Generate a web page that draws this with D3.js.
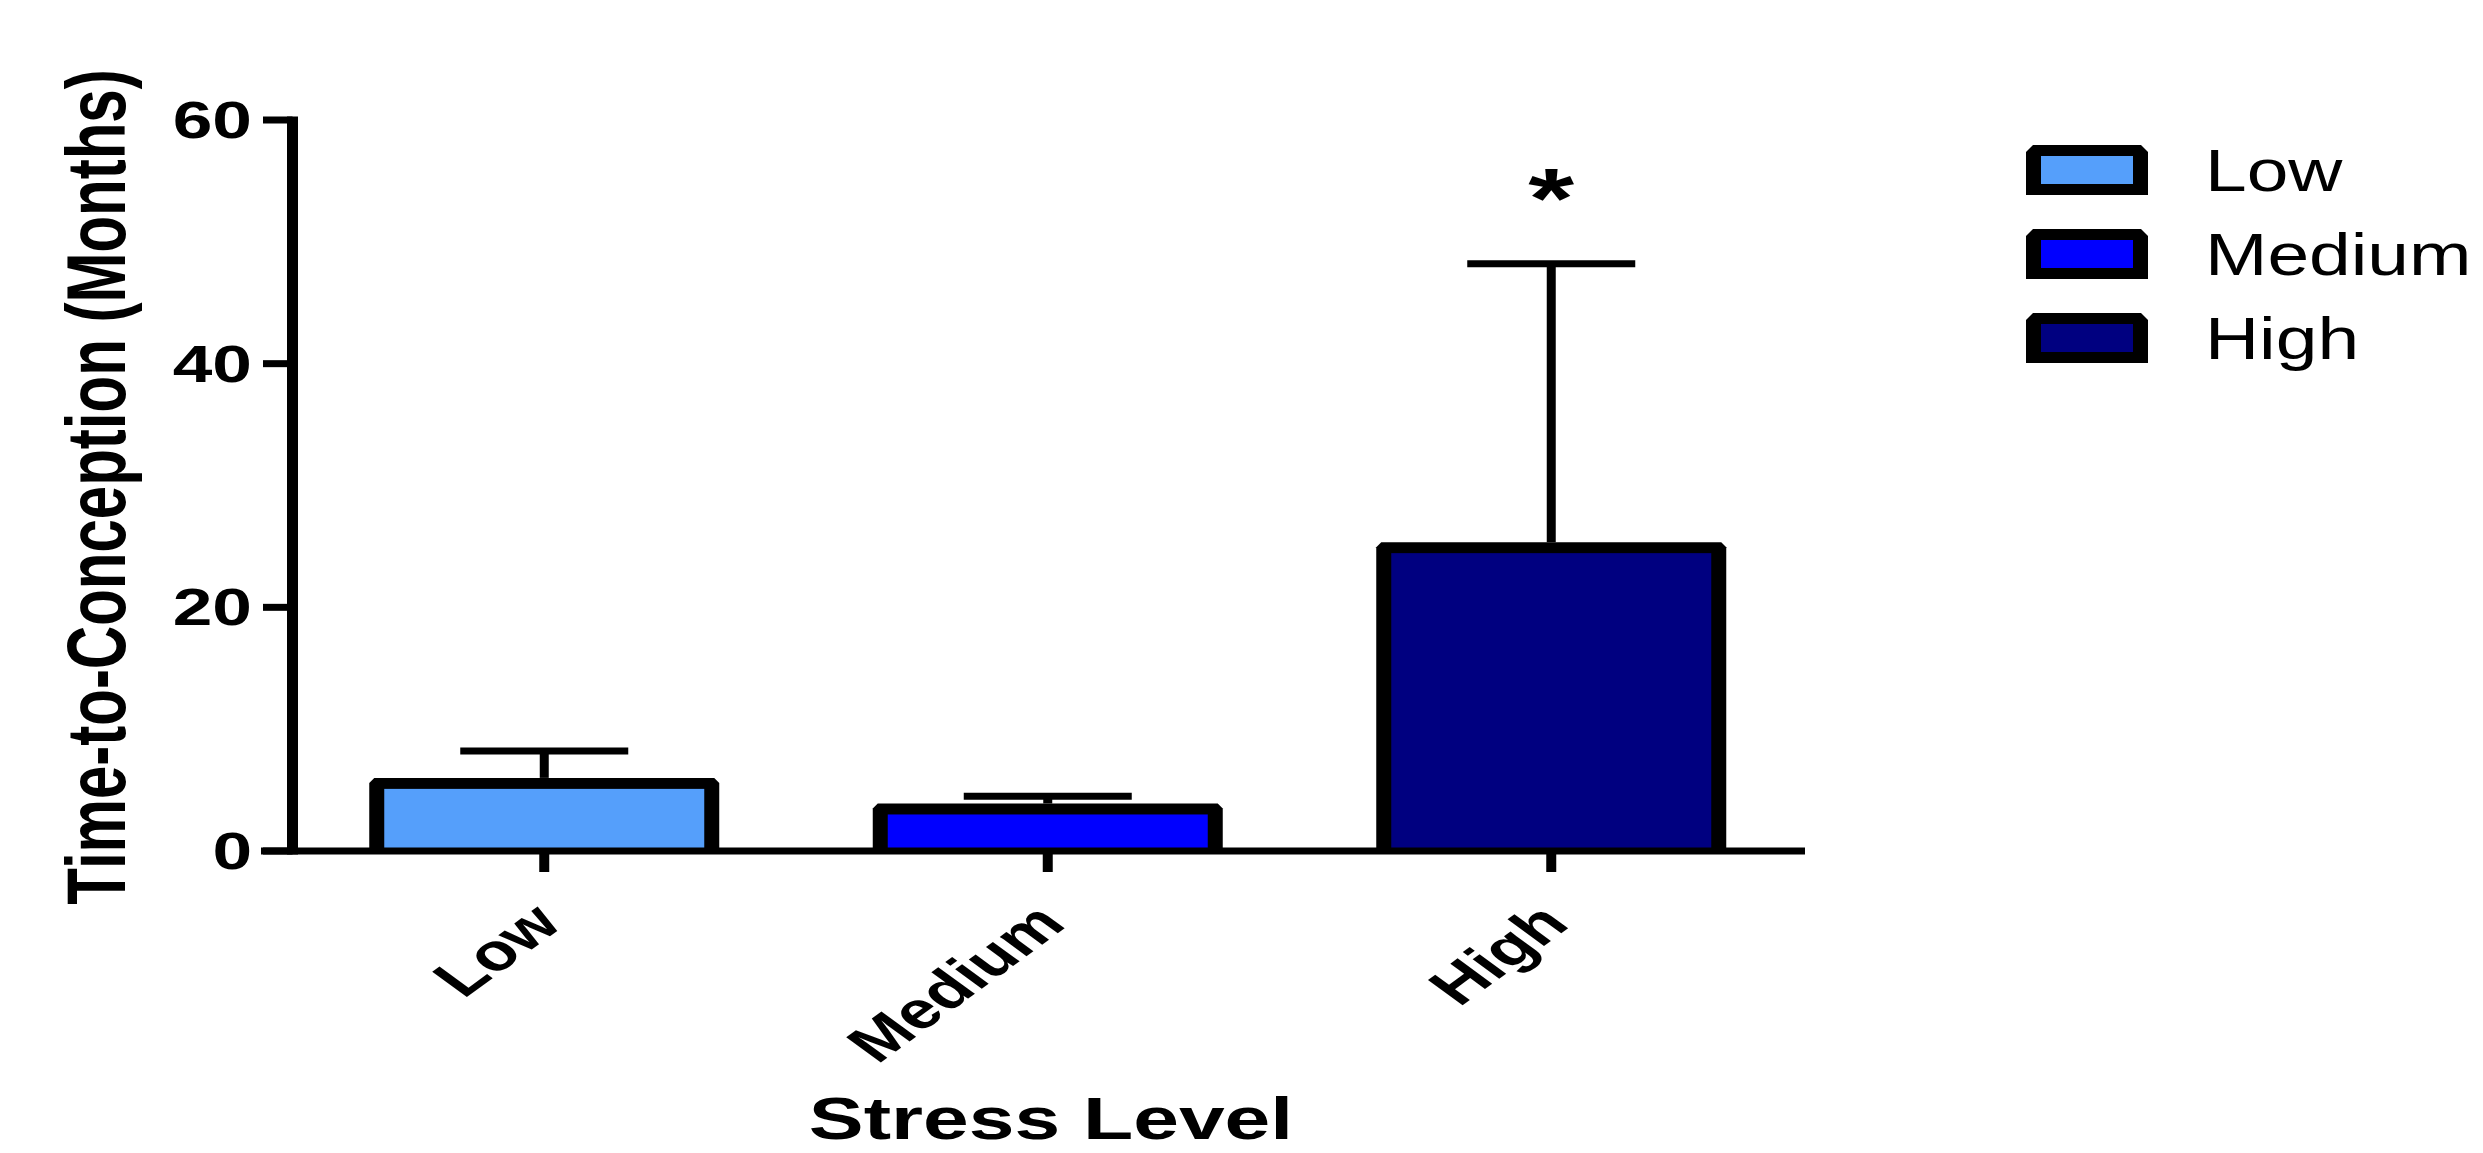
<!DOCTYPE html>
<html>
<head>
<meta charset="utf-8">
<script src="https://cdn.jsdelivr.net/npm/d3@7"></script>
<style>
  html, body { margin: 0; padding: 0; background: #ffffff; }
  svg { display: block; }
  text { font-family: "Liberation Sans", Arial, Helvetica, sans-serif; fill: #000; }
</style>
</head>
<body>
<script>
// ---- data ----
const categories = ["Low", "Medium", "High"];
const means = [5.55, 3.45, 24.9];
const errorTops = [8.2, 4.5, 48.2];
const barColors = ["#559ffb", "#0000ff", "#000080"];
const yTickValues = [0, 20, 40, 60];
const legendLabels = ["Low", "Medium", "High"];
const significance = ["", "", "*"];
const yTitle = "Time-to-Conception (Months)";
const xTitle = "Stress Level";

// ---- layout ----
const W = 2483, H = 1153;
const SX = 1.37; // horizontal text stretch seen in the reference

const svg = d3.select("body").append("svg")
  .attr("width", W).attr("height", H);

const y = d3.scaleLinear().domain([0, 60]).range([851, 120]);
const x = d3.scaleBand().domain(categories).range([292.5, 1803]).padding(0);
const cx = c => x(c) + x.bandwidth() / 2;

const halfOuter = 175, halfInner = 160, vStroke = 5.5, chamfer = 5;

function chamferPath(l, r, t, b, c) {
  return `M${l},${b} L${l},${t + c} L${l + c},${t} L${r - c},${t} L${r},${t + c} L${r},${b} Z`;
}

const data = categories.map((c, i) => ({
  cat: c, mean: means[i], err: errorTops[i], color: barColors[i], sig: significance[i]
}));

// bars
const g = svg.append("g");
g.selectAll("path.outer").data(data).join("path")
  .attr("class", "outer")
  .attr("d", d => chamferPath(cx(d.cat) - halfOuter, cx(d.cat) + halfOuter,
                              y(d.mean) - vStroke, y(0), chamfer))
  .attr("fill", "#000");
g.selectAll("rect.inner").data(data).join("rect")
  .attr("class", "inner")
  .attr("x", d => cx(d.cat) - halfInner)
  .attr("width", halfInner * 2)
  .attr("y", d => y(d.mean) + vStroke)
  .attr("height", d => Math.max(0, y(0) - y(d.mean) - vStroke))
  .attr("fill", d => d.color);

// error bars
g.selectAll("line.err").data(data).join("line")
  .attr("x1", d => cx(d.cat)).attr("x2", d => cx(d.cat))
  .attr("y1", d => y(d.mean) - vStroke).attr("y2", d => y(d.err))
  .attr("stroke", "#000").attr("stroke-width", 9);
g.selectAll("line.cap").data(data).join("line")
  .attr("x1", d => cx(d.cat) - 84).attr("x2", d => cx(d.cat) + 84)
  .attr("y1", d => y(d.err)).attr("y2", d => y(d.err))
  .attr("stroke", "#000").attr("stroke-width", 7);

// significance marks
g.selectAll("text.sig").data(data.filter(d => d.sig)).join("text")
  .attr("text-anchor", "middle")
  .attr("font-weight", "bold")
  .attr("font-size", 86)
  .attr("transform", d => `translate(${cx(d.cat)},${y(d.err) - 36}) scale(${SX},1)`)
  .text(d => d.sig);

// axes
const axis = svg.append("g");
axis.append("line")
  .attr("x1", 261).attr("x2", 1805)
  .attr("y1", y(0)).attr("y2", y(0))
  .attr("stroke", "#000").attr("stroke-width", 7);
axis.append("line")
  .attr("x1", 292.5).attr("x2", 292.5)
  .attr("y1", y(60) - 3.5).attr("y2", y(0) + 3.5)
  .attr("stroke", "#000").attr("stroke-width", 11);
axis.selectAll("line.ytick").data(yTickValues).join("line")
  .attr("x1", 263).attr("x2", 292.5)
  .attr("y1", d => y(d)).attr("y2", d => y(d))
  .attr("stroke", "#000").attr("stroke-width", 7);
axis.selectAll("text.ylab").data(yTickValues).join("text")
  .attr("text-anchor", "end")
  .attr("font-weight", "bold")
  .attr("font-size", 52)
  .attr("transform", d => `translate(252,${y(d) + 18}) scale(${SX},1)`)
  .text(d => d);

axis.selectAll("line.xtick").data(categories).join("line")
  .attr("x1", d => cx(d)).attr("x2", d => cx(d))
  .attr("y1", y(0)).attr("y2", 872)
  .attr("stroke", "#000").attr("stroke-width", 10);
axis.selectAll("text.xlab").data(categories).join("text")
  .attr("text-anchor", "end")
  .attr("font-weight", "bold")
  .attr("font-size", 52)
  .attr("transform", d => `translate(${cx(d) + 20},926) scale(${SX},1) rotate(-45)`)
  .text(d => d);

// axis titles
svg.append("text")
  .attr("text-anchor", "middle")
  .attr("font-weight", "bold")
  .attr("font-size", 60)
  .attr("transform", `translate(125,487) scale(1.4,1) rotate(-90)`)
  .text(yTitle);
svg.append("text")
  .attr("text-anchor", "middle")
  .attr("font-weight", "bold")
  .attr("font-size", 60)
  .attr("transform", `translate(1051,1139) scale(${SX},1)`)
  .text(xTitle);

// legend
const legend = svg.append("g");
const legY = d3.scalePoint().domain(legendLabels).range([170, 338]);
legend.selectAll("path.lo").data(legendLabels).join("path")
  .attr("d", d => chamferPath(2026, 2148, legY(d) - 25, legY(d) + 25, 7))
  .attr("fill", "#000");
legend.selectAll("path.lb").data(legendLabels).join("path")
  .attr("d", d => `M2026,${legY(d)} L2026,${legY(d) + 18} L2033,${legY(d) + 25} L2141,${legY(d) + 25} L2148,${legY(d) + 18} L2148,${legY(d)} Z`)
  .attr("fill", "#000");
legend.selectAll("rect.li").data(legendLabels).join("rect")
  .attr("x", 2041).attr("width", 92)
  .attr("y", d => legY(d) - 14).attr("height", 28)
  .attr("fill", (d, i) => barColors[i]);
legend.selectAll("text.lt").data(legendLabels).join("text")
  .attr("font-size", 59)
  .attr("transform", d => `translate(2205,${legY(d) + 21}) scale(1.27,1)`)
  .text(d => d);
</script>
</body>
</html>
